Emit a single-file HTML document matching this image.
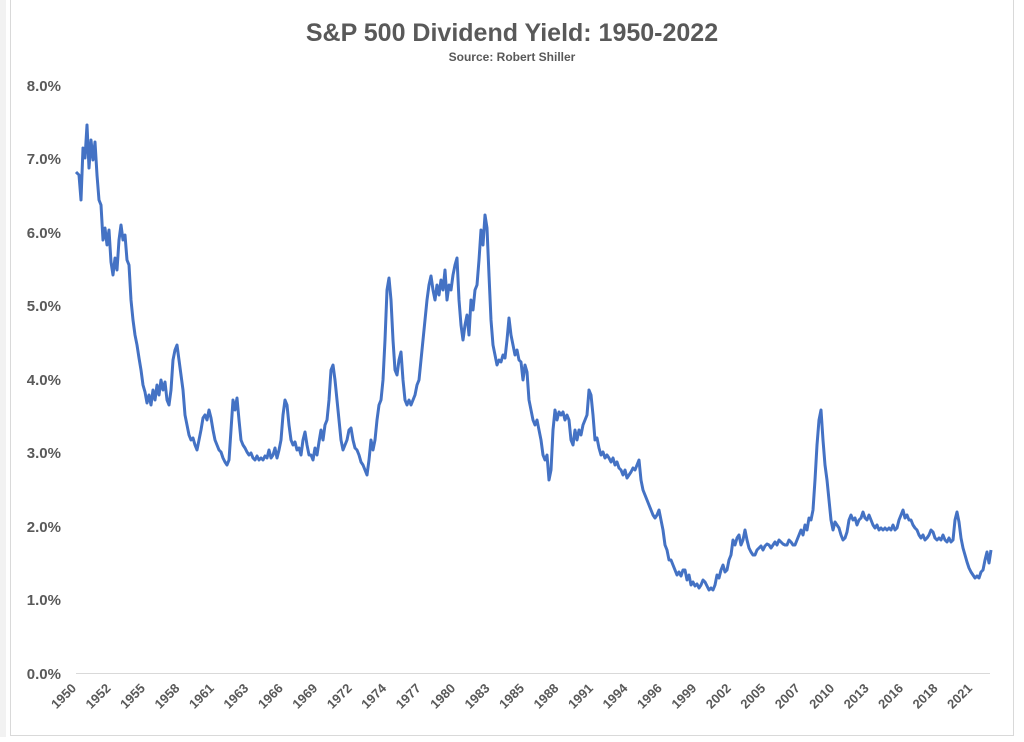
<!DOCTYPE html>
<html><head><meta charset="utf-8"><style>
body{margin:0;background:#fff;}
svg text{font-family:"Liberation Sans",Arial,sans-serif;font-weight:bold;fill:#595959;}
</style></head><body>
<svg width="1024" height="737" viewBox="0 0 1024 737" xmlns="http://www.w3.org/2000/svg">
<rect x="0" y="0" width="1024" height="737" fill="#fff"/>
<rect x="0" y="0" width="6" height="737" fill="#f2f2f2"/>
<rect x="10.5" y="-2" width="1003" height="737.5" fill="none" stroke="#d9d9d9"/>
<text x="512" y="41" text-anchor="middle" font-size="25">S&amp;P 500 Dividend Yield: 1950-2022</text>
<text x="512" y="61" text-anchor="middle" font-size="12">Source: Robert Shiller</text>
<g font-size="15" text-anchor="end">
<text x="61" y="91">8.0%</text><text x="61" y="164">7.0%</text><text x="61" y="238">6.0%</text>
<text x="61" y="311">5.0%</text><text x="61" y="385">4.0%</text><text x="61" y="458">3.0%</text>
<text x="61" y="532">2.0%</text><text x="61" y="605">1.0%</text><text x="61" y="679">0.0%</text>
</g>
<line x1="76" y1="673.5" x2="990" y2="673.5" stroke="#d9d9d9" stroke-width="1"/>
<polyline fill="none" stroke="#4472c4" stroke-width="3" stroke-linejoin="round" points="76,172 79,175 81,200 83,148 85,158 87,125 89,168 91,140 93,160 95,142 97,175 99,200 101,205 103,240 105,228 107,245 109,230 111,262 113,275 115,258 117,270 119,240 121,225 123,240 125,235 127,260 129,265 131,300 133,320 135,335 137,345 139,358 141,370 143,385 145,392 147,403 149,395 151,405 153,390 155,400 157,385 159,395 161,380 163,390 165,382 167,400 169,405 171,390 173,360 175,350 177,345 179,360 181,375 183,390 185,415 187,425 189,435 191,440 193,438 195,445 197,450 199,440 201,430 203,418 205,415 207,420 209,410 211,418 213,430 215,440 217,445 219,450 221,452 223,458 225,462 227,465 229,460 231,430 233,400 235,410 237,398 239,420 241,440 243,445 245,448 247,452 249,455 251,453 253,458 255,460 257,456 259,460 261,458 263,460 265,456 267,458 269,450 271,458 273,455 275,448 277,458 279,450 281,440 283,415 285,400 287,405 289,425 291,440 293,445 295,442 297,450 299,448 301,455 303,440 305,432 307,445 309,455 311,455 313,460 315,448 317,455 319,442 321,430 323,440 325,425 327,420 329,400 331,370 333,365 335,380 337,400 339,420 341,440 343,450 345,445 347,440 349,430 351,428 353,440 355,448 357,450 359,455 361,462 363,465 365,470 367,475 369,460 371,440 373,450 375,440 377,420 379,405 381,400 383,380 385,340 387,290 389,278 391,300 393,340 395,370 397,375 399,360 401,352 403,380 405,400 407,405 409,400 411,405 413,400 415,395 417,385 419,380 421,360 423,340 425,320 427,300 429,285 431,276 433,290 435,300 437,285 439,295 441,280 443,290 445,270 447,300 449,285 451,290 453,275 455,265 457,258 459,300 461,325 463,340 465,325 467,315 469,335 471,300 473,310 475,290 477,285 479,260 481,230 483,245 485,215 487,228 489,275 491,320 493,345 495,355 497,365 499,360 501,362 503,355 505,358 507,340 509,318 511,335 513,345 515,355 517,350 519,360 521,362 523,380 525,365 527,372 529,400 531,410 533,420 535,425 537,420 539,430 541,440 543,455 545,460 547,455 549,480 551,470 553,430 555,410 557,420 559,412 561,415 563,412 565,420 567,415 569,420 571,440 573,445 575,430 577,440 579,430 581,435 583,425 585,420 587,415 589,390 591,395 593,415 595,440 597,438 599,448 601,455 603,452 605,458 607,455 609,458 611,462 613,458 615,465 617,462 619,468 621,470 623,475 625,470 627,478 629,475 631,472 633,468 635,470 637,465 639,460 641,480 643,490 645,495 647,500 649,505 651,510 653,515 655,518 657,515 659,510 661,520 663,530 665,545 667,550 669,560 671,560 673,565 675,570 677,575 679,572 681,576 683,570 685,570 687,580 689,575 691,585 693,582 695,586 697,584 699,588 701,585 703,580 705,582 707,586 709,590 711,588 713,590 715,585 717,575 719,578 721,570 723,565 725,572 727,570 729,560 731,555 733,540 735,545 737,538 739,535 741,545 743,540 745,530 747,540 749,548 751,552 753,555 755,555 757,550 759,548 761,546 763,550 765,546 767,544 769,545 771,548 773,545 775,542 777,545 779,540 781,542 783,544 785,545 787,545 789,540 791,542 793,545 795,545 797,540 799,535 801,530 803,535 805,525 807,530 809,518 811,520 813,510 815,480 817,445 819,420 821,410 823,440 825,465 827,480 829,500 831,520 833,530 835,522 837,525 839,528 841,535 843,540 845,538 847,532 849,520 851,515 853,520 855,518 857,525 859,520 861,518 863,512 865,518 867,520 869,515 871,520 873,525 875,528 877,525 879,530 881,528 883,530 885,528 887,530 889,528 891,530 893,525 895,530 897,528 899,520 901,515 903,510 905,518 907,515 909,520 911,520 913,525 915,528 917,530 919,535 921,538 923,535 925,540 927,538 929,535 931,530 933,532 935,538 937,540 939,538 941,540 943,535 945,540 947,542 949,538 951,542 953,540 955,520 957,512 959,522 961,538 963,548 965,555 967,562 969,568 971,572 973,575 975,578 977,576 979,578 981,572 983,570 985,560 987,552 989,563 991,550"/>
<g font-size="13" text-anchor="end">
<text transform="translate(77,689) rotate(-45)">1950</text>
<text transform="translate(111.5,689) rotate(-45)">1952</text>
<text transform="translate(145.9,689) rotate(-45)">1955</text>
<text transform="translate(180.4,689) rotate(-45)">1958</text>
<text transform="translate(214.8,689) rotate(-45)">1961</text>
<text transform="translate(249.3,689) rotate(-45)">1963</text>
<text transform="translate(283.8,689) rotate(-45)">1966</text>
<text transform="translate(318.2,689) rotate(-45)">1969</text>
<text transform="translate(352.7,689) rotate(-45)">1972</text>
<text transform="translate(387.1,689) rotate(-45)">1974</text>
<text transform="translate(421.6,689) rotate(-45)">1977</text>
<text transform="translate(456.1,689) rotate(-45)">1980</text>
<text transform="translate(490.5,689) rotate(-45)">1983</text>
<text transform="translate(525,689) rotate(-45)">1985</text>
<text transform="translate(559.4,689) rotate(-45)">1988</text>
<text transform="translate(593.9,689) rotate(-45)">1991</text>
<text transform="translate(628.4,689) rotate(-45)">1994</text>
<text transform="translate(662.8,689) rotate(-45)">1996</text>
<text transform="translate(697.3,689) rotate(-45)">1999</text>
<text transform="translate(731.7,689) rotate(-45)">2002</text>
<text transform="translate(766.2,689) rotate(-45)">2005</text>
<text transform="translate(800.7,689) rotate(-45)">2007</text>
<text transform="translate(835.1,689) rotate(-45)">2010</text>
<text transform="translate(869.6,689) rotate(-45)">2013</text>
<text transform="translate(904,689) rotate(-45)">2016</text>
<text transform="translate(938.5,689) rotate(-45)">2018</text>
<text transform="translate(973,689) rotate(-45)">2021</text>
</g>
</svg>
</body></html>
